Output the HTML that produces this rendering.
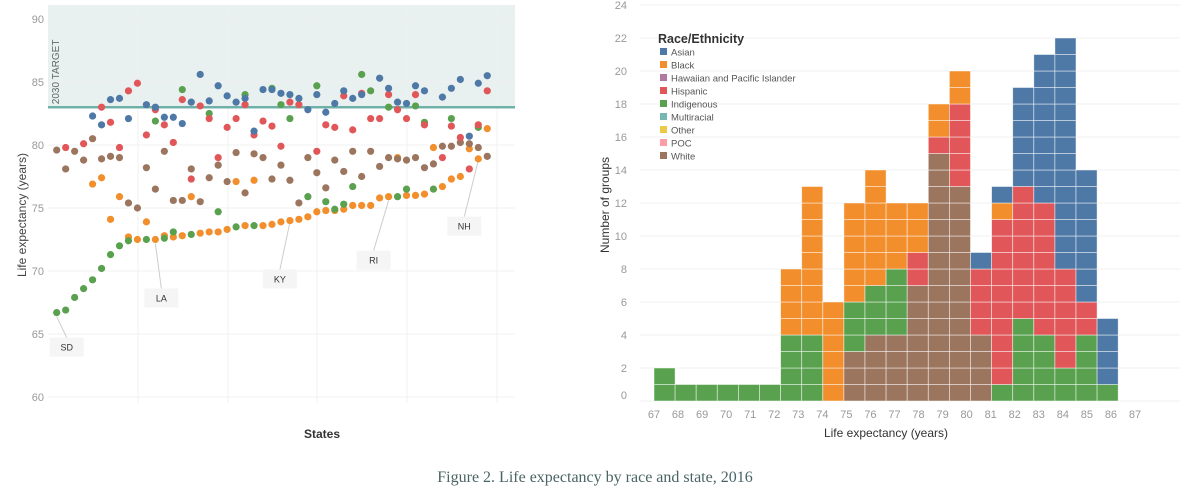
<!DOCTYPE html>
<html><head><meta charset="utf-8"><style>
html,body{margin:0;padding:0;background:#fff;width:1200px;height:495px;overflow:hidden;}
svg{display:block;font-family:"Liberation Sans",sans-serif;}
</style></head><body>
<svg id="c" width="1200" height="495"></svg>
<script>
// ---------- Left chart data (life expectancy by state, per race) ----------
const asian = [null,null,null,null,82.3,81.6,83.6,83.7,82.1,null,83.2,83.0,82.2,82.2,81.7,83.4,85.6,83.5,84.7,83.9,83.4,83.7,81.1,84.4,84.4,84.1,84.0,83.7,82.8,84.0,82.6,83.3,84.3,83.7,84.0,null,85.3,84.5,83.4,83.3,84.7,84.3,null,83.8,84.5,85.2,80.7,84.9,85.5];
const hispanic = [null,79.8,null,80.1,null,83.0,81.8,79.8,84.3,84.9,80.8,82.8,81.6,80.2,83.6,77.3,83.1,82.1,79.0,81.4,82.1,83.2,80.8,81.9,81.5,79.9,83.4,83.2,null,79.5,81.6,81.4,83.9,81.2,84.1,82.1,82.1,84.0,82.8,82.1,84.0,81.6,null,79.0,81.5,80.6,78.1,81.6,84.3];
const white = [79.6,78.1,79.5,78.8,80.5,78.9,79.1,79.0,75.4,75.0,78.2,76.5,79.5,75.6,75.6,78.1,75.5,77.4,78.4,77.1,79.4,76.2,79.3,79.0,77.3,78.4,77.2,75.4,79.0,77.8,76.6,78.8,77.9,79.5,77.5,79.5,78.3,79.0,78.9,78.8,79.0,78.2,78.5,79.9,79.9,80.2,80.1,79.8,79.1];
const black = [null,null,null,null,76.9,77.4,74.1,75.9,72.7,72.5,73.9,72.5,72.8,72.7,72.8,75.9,73.0,73.1,73.1,73.3,77.1,73.6,77.2,73.6,73.7,73.9,74.0,74.1,74.3,74.7,74.8,74.8,74.9,75.2,75.2,75.2,75.8,75.9,79.0,76.0,76.0,76.1,79.8,76.7,77.3,77.5,79.7,78.9,81.3];
const indigenous = [66.7,66.9,67.9,68.6,69.3,70.2,71.3,72.0,72.4,null,72.5,81.9,72.6,73.1,84.4,72.9,null,82.5,74.7,null,73.5,84.0,73.6,null,84.5,83.2,82.1,null,75.9,84.7,75.5,74.9,75.3,76.7,85.6,84.3,null,83.0,75.9,76.5,83.1,81.8,76.5,null,82.1,null,null,81.4,null];
const stateLabels = ["SD","LA","KY","RI","NH"];
const labelIdx = [0,11,26,37,47];
const labelVal = [66.7,72.5,74.2,75.9,79.1];
const labelPos = [64.0,67.9,69.4,70.9,73.6];
const yTicksL = [60,65,70,75,80,85,90];
// ---------- Right chart data (histogram counts per bin, stacked) ----------
const bins = [67,68,69,70,71,72,73,74,75,76,77,78,79,80,81,82,83,84,85,86,87,88];
const hWhite =      [0,0,0,0,0,0,0,0,0,3,4,4,7,15,13,4,0,0,0,0,0,0];
const hIndigenous = [2,1,1,1,1,1,4,4,0,3,3,4,0,0,0,0,1,5,4,2,4,1];
const hHispanic =   [0,0,0,0,0,0,0,0,0,0,0,0,2,1,5,4,10,8,8,6,2,0];
const hBlack =      [0,0,0,0,0,0,4,9,6,6,7,4,3,2,2,0,1,0,0,0,0,0];
const hAsian =      [0,0,0,0,0,0,0,0,0,0,0,0,0,0,0,1,1,6,9,14,8,4];
const xTickLabels = [67,68,69,70,71,72,73,74,75,76,77,78,79,80,81,82,83,84,85,86,87];
const yTicksR = [0,2,4,6,8,10,12,14,16,18,20,22,24];
const legendNames = ["Asian","Black","Hawaiian and Pacific Islander","Hispanic","Indigenous","Multiracial","Other","POC","White"];

const C = {asian:"#4e79a7",black:"#f28e2b",hpi:"#b07aa1",hispanic:"#e15759",indigenous:"#59a14f",multi:"#76b7b2",other:"#edc948",poc:"#ff9da7",white:"#9c755f"};
const legendColors = [C.asian,C.black,C.hpi,C.hispanic,C.indigenous,C.multi,C.other,C.poc,C.white];

const svg = document.getElementById('c');
const NS = "http://www.w3.org/2000/svg";
function mk(tag, attrs, parent){const e=document.createElementNS(NS,tag);for(const k in attrs)e.setAttribute(k,attrs[k]);(parent||svg).appendChild(e);return e;}

// ---- left axes
const xL = i => 56.7 + i*8.97;
const yL = v => 19 + (90 - v)*12.6;
const left = mk('g',{});


const band = mk('rect',{x:48,y:5,width:467,height:yL(83)-5,fill:"#e8f1f0"},left);


yTicksL.forEach(t=>{
  const g=mk('line',{x1:48,x2:515,y1:yL(t),y2:yL(t),stroke:"#f0f0f0","stroke-width":1},left);
  
  
  const tx=mk('text',{x:44,y:yL(t)+4,"text-anchor":"end","font-size":11,fill:"#999"},left);
  tx.textContent=t;
  
  
});
[138,228,317,407,497].forEach(x=>{
  const g=mk('line',{x1:x,x2:x,y1:5,y2:403,stroke:"#f0f0f0","stroke-width":1},left);
  
  
});
const tl=mk('line',{x1:48,x2:515,y1:yL(83),y2:yL(83),stroke:"#6fb0a8","stroke-width":2.5},left);


const tt=mk('text',{x:0,y:0,"font-size":10,fill:"#666",transform:`translate(59,${yL(83)-3}) rotate(-90)`},left);
tt.textContent="2030 TARGET";



// labels
const labelDx = [10,6,-10,-15,-14];
stateLabels.forEach((s,k)=>{
  const cy=yL(labelPos[k]);
  const bx = xL(labelIdx[k]) + labelDx[k];
  const ln=mk('line',{x1:xL(labelIdx[k]),y1:yL(labelVal[k])+4,x2:bx,y2:cy-9,stroke:"#ccc","stroke-width":1},left);
  
  
  const r=mk('rect',{x:bx-17,y:cy-9,width:34,height:19,fill:"#f5f5f5"},left);
  
  
  const t=mk('text',{x:bx,y:cy+4,"text-anchor":"middle","font-size":9,fill:"#333"},left);
  t.textContent=s;
  
  
});

const series=[[black,C.black,'black'],[white,C.white,'white'],[indigenous,C.indigenous,'indigenous'],[hispanic,C.hispanic,'hispanic'],[asian,C.asian,'asian']];
series.forEach(([arr,col,nm])=>{
  arr.forEach((v,i)=>{
    if(v==null)return;
    const d=mk('circle',{cx:xL(i),cy:yL(v),r:3.6,fill:col},left);
    
    
  });
});
const yt=mk('text',{x:0,y:0,"font-size":12,fill:"#444","text-anchor":"middle",transform:"translate(26,215) rotate(-90)"},left);
yt.textContent="Life expectancy (years)";


const xt=mk('text',{x:322,y:438,"font-size":12,fill:"#333","text-anchor":"middle","font-weight":"bold"},left);
xt.textContent="States";



// ---- right chart
const colW = 21.1;
const xB = i => 654 + i*colW;
const yB = v => 401 - v*16.5;
const xT = v => 654 + (v-67)*24.05;
const right = mk('g',{});


yTicksR.forEach(t=>{
  const g=mk('line',{x1:640,x2:1180,y1:yB(t),y2:yB(t),stroke:"#f2f2f2","stroke-width":1},right);
  
  
  const tx=mk('text',{x:627,y:Math.min(yB(t)+4,399),"text-anchor":"end","font-size":11,fill:"#999"},right);
  tx.textContent=t;
  
  
});
const stack=[[hWhite,C.white,'white'],[hIndigenous,C.indigenous,'indigenous'],[hHispanic,C.hispanic,'hispanic'],[hBlack,C.black,'black'],[hAsian,C.asian,'asian']];
for(let i=0;i<bins.length;i++){
  let base=0;
  stack.forEach(([arr,col,nm])=>{
    for(let k=0;k<arr[i];k++){
      const r=mk('rect',{x:xB(i),y:yB(base+1),width:colW,height:16.5,fill:col,stroke:"#fff","stroke-width":0.8,"stroke-opacity":0.6},right);
      
      
      base++;
    }
  });
}
xTickLabels.forEach(t=>{
  const tx=mk('text',{x:xT(t),y:418,"text-anchor":"middle","font-size":11,fill:"#999"},right);
  tx.textContent=t;
  
  
});
const rxt=mk('text',{x:886,y:437,"text-anchor":"middle","font-size":12,fill:"#333"},right);
rxt.textContent="Life expectancy (years)";


const ryt=mk('text',{x:0,y:0,"font-size":12,fill:"#333","text-anchor":"middle",transform:"translate(609,205) rotate(-90)"},right);
ryt.textContent="Number of groups";


// legend
const lg=mk('g',{},right);


const lt=mk('text',{x:658,y:43,"font-size":12.5,"font-weight":"bold",fill:"#333"},lg);
lt.textContent="Race/Ethnicity";


legendNames.forEach((n,k)=>{
  const y=52+k*13;
  const sq=mk('rect',{x:660,y:y-4,width:7,height:7,fill:legendColors[k]},lg);
  
  
  const t=mk('text',{x:671,y:y+3.5,"font-size":9.5,fill:"#555"},lg);
  t.textContent=n;
  
  
});
// caption
const cap=mk('text',{x:595,y:482,"text-anchor":"middle","font-size":16,fill:"#4a6464","font-family":"Liberation Serif, serif"});
cap.textContent="Figure 2. Life expectancy by race and state, 2016";


</script>
</body></html>
